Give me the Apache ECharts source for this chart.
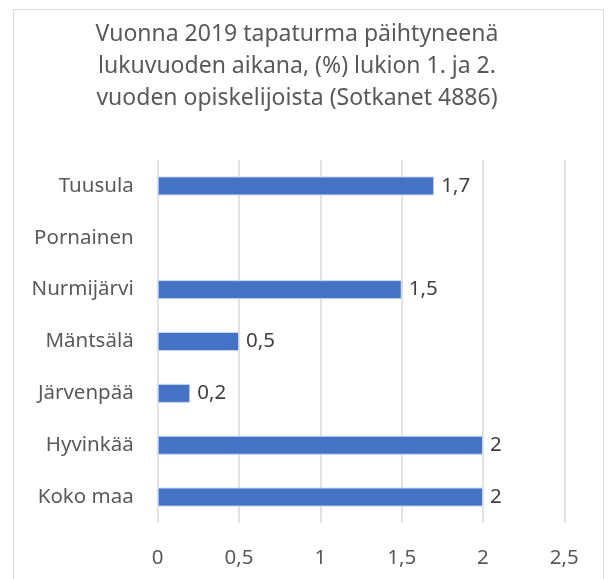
<!doctype html>
<html lang="fi">
<head>
    <meta charset="UTF-8">
    <title>Tapaturma päihtyneenä</title>
    <script src="https://cdn.jsdelivr.net/npm/echarts@6/dist/echarts.min.js"></script>
    <style>
        html, body { margin: 0; padding: 0; background: #fff; }
    </style>
</head>
<body>

<div id="chart" style="width: 609px;height: 579px;"></div>
<script type="text/javascript">
    // alhaalta ylös kuten kuvassa
    const categories = ['Koko maa', 'Hyvinkää', 'Järvenpää', 'Mäntsälä', 'Nurmijärvi', 'Pornainen', 'Tuusula'];
    const values = [2, 2, 0.2, 0.5, 1.5, null, 1.7];
    const xTicks = [0, 0.5, 1, 1.5, 2, 2.5];

    const titleText = 'Vuonna 2019 tapaturma päihtyneenä\nlukuvuoden aikana, (%) lukion 1. ja 2.\nvuoden opiskelijoista (Sotkanet 4886)';
    const fontName = 'Noto Sans';

    function fiNum(v) {
        return String(v).replace('.', ',');
    }

    let chart = echarts.init(document.getElementById('chart'));
    chart.setOption({
        animation: false,
        graphic: [{
            type: 'rect',
            shape: {x: 13.5, y: 9.5, width: 590, height: 600},
            style: {fill: 'none', stroke: '#d9d9d9', lineWidth: 1}
        }],
        title: {
            text: titleText,
            left: 292,
            top: 13,
            textAlign: 'center',
            textStyle: {
                fontFamily: fontName,
                fontSize: 23,
                fontWeight: 'normal',
                color: '#595959',
                lineHeight: 32
            }
        },
        grid: {left: 157.7, right: 44.7, top: 160, bottom: 56, containLabel: false},
        xAxis: {
            type: 'value',
            min: xTicks[0],
            max: xTicks[xTicks.length - 1],
            interval: 0.5,
            axisLine: {show: false},
            axisTick: {show: false},
            splitLine: {lineStyle: {color: '#d9d9d9', width: 1.5}},
            axisLabel: {
                margin: 25,
                fontFamily: fontName,
                fontSize: 20.5,
                color: '#595959',
                formatter: fiNum
            }
        },
        yAxis: {
            type: 'category',
            data: categories,
            axisLine: {show: false},
            axisTick: {show: false},
            axisLabel: {
                margin: 24,
                fontFamily: fontName,
                fontSize: 20.5,
                color: '#595959'
            }
        },
        series: [{
            type: 'bar',
            data: values,
            barWidth: 19,
            itemStyle: {color: '#4472C4', borderColor: '#c9d6ef', borderWidth: 1},
            label: {
                show: true,
                position: 'right',
                distance: 7,
                fontFamily: fontName,
                fontSize: 20.5,
                color: '#404040',
                formatter: function (p) { return fiNum(p.value); }
            }
        }]
    });
</script>
</body>
</html>
